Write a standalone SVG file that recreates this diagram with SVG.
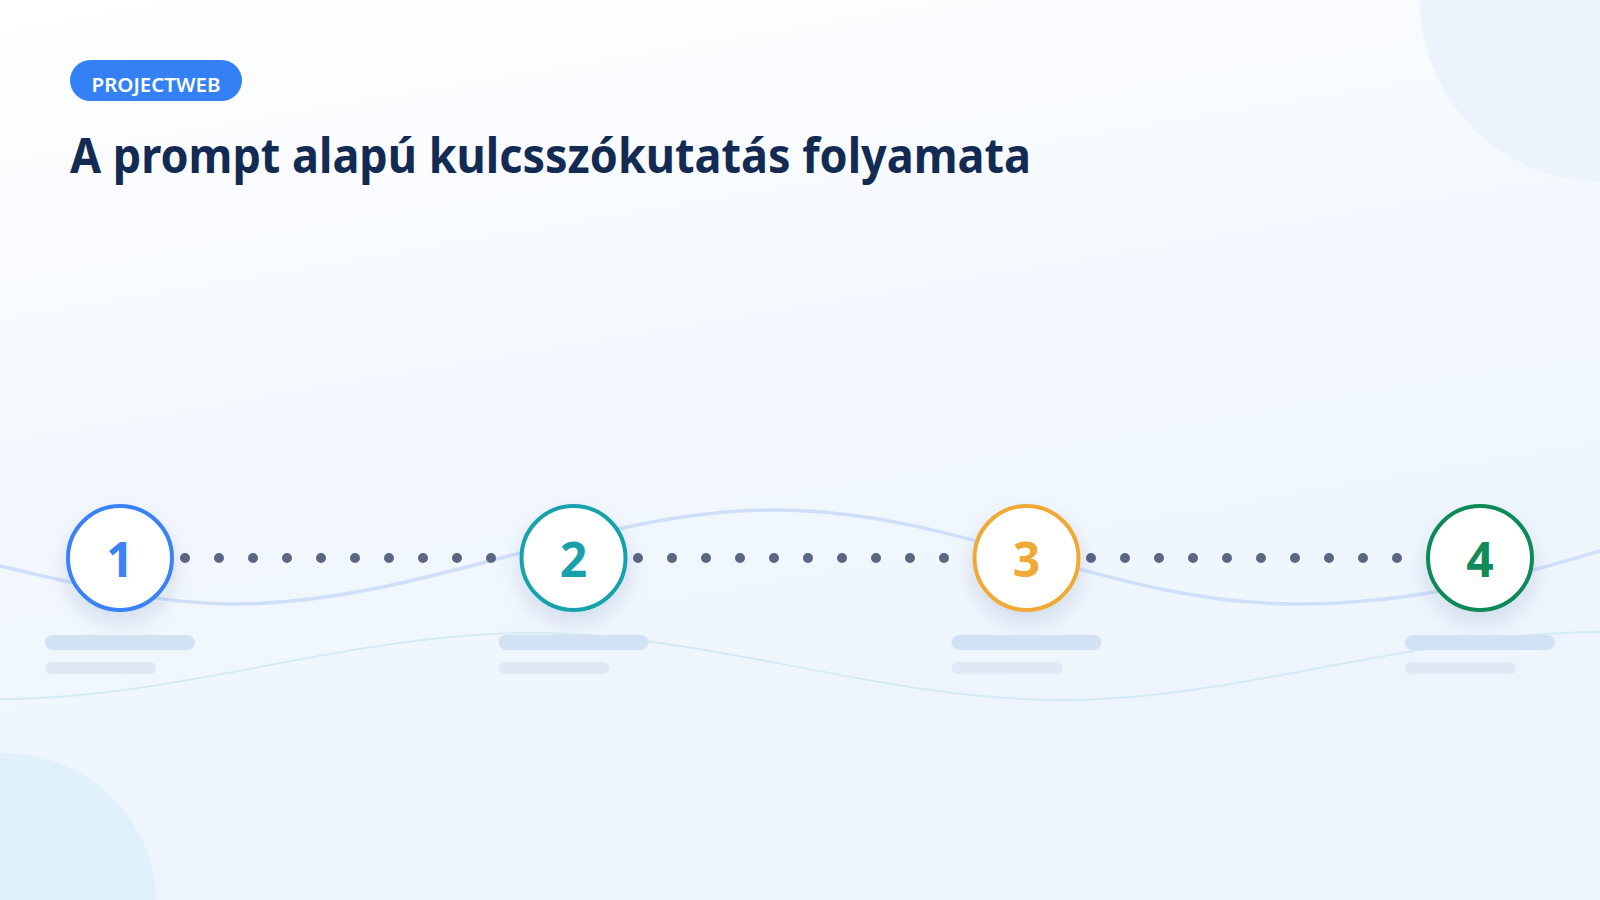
<svg xmlns="http://www.w3.org/2000/svg" width="1600" height="900" viewBox="0 0 1600 900">
  <defs>
    <linearGradient id="bg" x1="0" y1="0" x2="0.3" y2="1">
      <stop offset="0" stop-color="#ffffff"/>
      <stop offset="0.5" stop-color="#f3f8fe"/>
      <stop offset="1" stop-color="#edf4fd"/>
    </linearGradient>
    <filter id="shadow" x="-50%" y="-50%" width="200%" height="200%">
      <feDropShadow dx="0" dy="10" stdDeviation="10" flood-color="#1e3a6e" flood-opacity="0.13"/>
    </filter>
    <style>
      .node-ring { fill: #ffffff; stroke-width: 4; filter: url(#shadow); }
      .num { font-family: "Noto Sans", "Open Sans", "Liberation Sans", sans-serif; font-weight: 700; font-size: 48px; text-anchor: middle; }
      .bar1 { fill: #d2e1f3; }
      .bar2 { fill: #dfe9f5; }
      .dots { stroke: #5b6682; stroke-width: 10; stroke-linecap: round; stroke-dasharray: 0 34; fill: none; }
    </style>
  </defs>

  <rect x="0" y="0" width="1600" height="900" fill="url(#bg)"/>
  <circle cx="1602" cy="0" r="182" fill="#ecf3fd"/>
  <circle cx="5" cy="905" r="152" fill="#e1f1fb"/>

  <!-- decorative waves -->
  <path d="M0,566 C80,585 160,604 235,604 C420,604 590,510 775,510 C960,510 1110,604 1296,604 C1420,604 1520,575 1600,551" fill="none" stroke="#cfdff9" stroke-width="3.5"/>
  <path d="M0,699 C180,699 350,633 531,633 C710,633 880,700 1061,700 C1240,700 1420,632 1600,632" fill="none" stroke="#d2ebf6" stroke-width="2"/>

  <!-- header -->
  <g id="badge">
    <rect x="70" y="60" width="172" height="41" rx="20.5" fill="#3381f4"/>
    <text x="156" y="92" font-family="Noto Sans, Open Sans, Liberation Sans, sans-serif" font-size="20.5" font-weight="600" fill="#ffffff" text-anchor="middle">PROJECTWEB</text>
  </g>
  <g id="title">
    <text x="70" y="173" font-family="Noto Sans, Open Sans, Liberation Sans, sans-serif" font-size="49" font-weight="700" fill="#132a52" textLength="961" lengthAdjust="spacingAndGlyphs">A prompt alapú kulcsszókutatás folyamata</text>
  </g>

  <!-- connectors -->
  <g id="connectors">
    <line class="dots" x1="185" y1="558" x2="492" y2="558"/>
    <line class="dots" x1="638" y1="558" x2="945" y2="558"/>
    <line class="dots" x1="1091" y1="558" x2="1398" y2="558"/>
  </g>

  <!-- nodes -->
  <g id="node1">
    <circle class="node-ring" cx="120" cy="558" r="52" stroke="#3b82f6"/>
    <text class="num" x="120" y="577" fill="#3b82f6">1</text>
    <rect class="bar1" x="45" y="635" width="150" height="15" rx="7.5"/>
    <rect class="bar2" x="45" y="662" width="111" height="12" rx="6"/>
  </g>
  <g id="node2">
    <circle class="node-ring" cx="573.5" cy="558" r="52" stroke="#17a2ab"/>
    <text class="num" x="573.5" y="577" fill="#17a2ab">2</text>
    <rect class="bar1" x="498.5" y="635" width="150" height="15" rx="7.5"/>
    <rect class="bar2" x="498.5" y="662" width="111" height="12" rx="6"/>
  </g>
  <g id="node3">
    <circle class="node-ring" cx="1026.5" cy="558" r="52" stroke="#f0a935"/>
    <text class="num" x="1026.5" y="577" fill="#f0a935">3</text>
    <rect class="bar1" x="951.5" y="635" width="150" height="15" rx="7.5"/>
    <rect class="bar2" x="951.5" y="662" width="111" height="12" rx="6"/>
  </g>
  <g id="node4">
    <circle class="node-ring" cx="1480" cy="558" r="52" stroke="#0f8a58"/>
    <text class="num" x="1480" y="577" fill="#0f8a58">4</text>
    <rect class="bar1" x="1405" y="635" width="150" height="15" rx="7.5"/>
    <rect class="bar2" x="1405" y="662" width="111" height="12" rx="6"/>
  </g>
</svg>
